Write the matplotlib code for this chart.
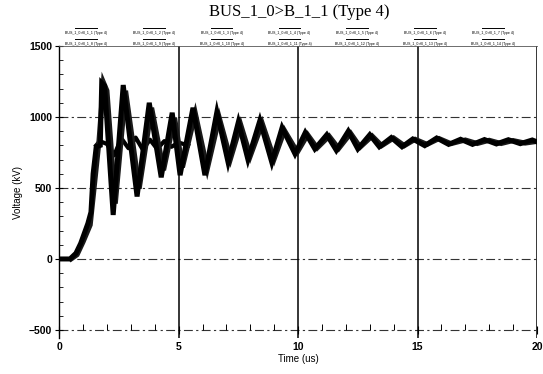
"""Overlaid bus voltage transients, Type 4 case."""
import matplotlib
matplotlib.use("Agg")
import matplotlib.pyplot as plt
from matplotlib.ticker import MultipleLocator

# main oscillating trace (time in us, voltage in kV)
t_main = [0, 0.45, 0.7, 0.9, 1.2, 1.33, 1.42, 1.55, 1.72, 1.78, 1.9, 2.26,
          2.68, 3.26, 3.77, 4.27, 4.73, 5.06, 5.6, 6.1, 6.6, 7.07, 7.5, 7.9,
          8.4, 8.9, 9.33, 9.87, 10.3, 10.7, 11.2, 11.6, 12.1, 12.5, 13.0,
          13.4, 13.9, 14.35, 14.8, 15.3, 15.8, 16.3, 16.8, 17.3, 17.8, 18.3,
          18.8, 19.3, 19.8, 20]
v_main = [0, 0, 40, 110, 250, 330, 600, 790, 800, 1240, 1220, 310,
          1225, 440, 1100, 575, 1030, 590, 1065, 590, 1035, 680, 965, 700,
          975, 680, 925, 740, 890, 775, 875, 765, 900, 775, 875,
          790, 855, 790, 845, 798, 852, 807, 843, 807, 841, 810,
          840, 812, 838, 825]

# neighbouring traces, a little behind the main one
t_lag = [0.5, 0.75, 1.0, 1.3, 1.5, 1.65, 1.85, 2.0, 2.35, 2.78, 3.35, 3.87,
         4.37, 4.83, 5.16, 5.7, 6.2, 6.7, 7.17, 7.6, 8.0, 8.5, 9.0, 9.43,
         9.97, 10.4, 10.8, 11.3, 11.7, 12.2, 12.6, 13.1, 13.5, 14.0, 14.45,
         14.9, 15.4, 15.9, 16.4, 17.0, 17.5, 18.0, 18.5, 19.0, 19.5, 20]
v_lag = [0, 30, 120, 240, 560, 800, 1245, 1185, 390, 1185, 495, 1065,
         625, 995, 645, 1025, 635, 995, 705, 945, 725, 955, 705, 905,
         752, 875, 782, 865, 778, 885, 788, 866, 798, 852, 798,
         843, 807, 848, 812, 838, 813, 836, 813, 834, 816, 828]

# flatter trace that stays near 800 kV
t_flat = [1.55, 1.7, 2.0, 2.3, 2.6, 2.9, 3.2, 3.5, 3.8, 4.1, 4.4, 4.7, 5.0, 5.4]
v_flat = [800, 830, 810, 730, 850, 780, 855, 770, 840, 775, 830, 790, 820, 800]

legend_labels = [f"BUS_1_0>B_1_{i} (Type 4)" for i in range(1, 15)]

x_major = [0, 5, 10, 15, 20]
y_major = [-500, 0, 500, 1000, 1500]

fig = plt.figure(figsize=(5.43, 3.74), dpi=100)
ax = fig.add_axes([0.109, 0.095, 0.880, 0.782])

# grid
for y in [-500, 0, 500, 1000]:
    ax.axhline(y, color="#333333", lw=0.8, ls=(0, (8, 3, 2, 3)), zorder=1)
for x in [5, 10, 15, 20]:
    ax.axvline(x, color="black", lw=1.1, zorder=1)

ax.plot(t_flat, v_flat, color="black", lw=3.0, zorder=3)
ax.plot(t_lag, v_lag, color="#1a1a1a", lw=3.6, solid_joinstyle="miter", zorder=3)
ax.plot(t_main, v_main, color="black", lw=3.6, solid_joinstyle="miter", zorder=4)

ax.set_xlim(0, 20)
ax.set_ylim(-560, 1500)

ax.spines["right"].set_visible(False)
ax.spines["top"].set_linewidth(0.6)
ax.spines["top"].set_color("#555555")
ax.spines["left"].set_linewidth(1.0)
ax.spines["bottom"].set_position(("data", -500))
ax.spines["bottom"].set_visible(False)

ax.set_xticks(x_major)
ax.xaxis.set_minor_locator(MultipleLocator(1))
ax.set_yticks(y_major)
ax.yaxis.set_minor_locator(MultipleLocator(100))
ax.tick_params(axis="y", which="major", direction="inout", length=6, width=0.8,
               labelsize=7.5, pad=2)
ax.tick_params(axis="y", which="minor", direction="in", length=3, width=0.6)
ax.tick_params(axis="x", which="major", direction="inout", length=6, width=0.8,
               labelsize=7.5, pad=6)
ax.tick_params(axis="x", which="minor", direction="in", length=4, width=0.7)
for lab in ax.get_xticklabels() + ax.get_yticklabels():
    lab.set_fontfamily("Liberation Sans")
    lab.set_fontweight("bold")

ax.set_xlabel("Time (us)", fontsize=7, family="Liberation Sans", labelpad=1)
ax.set_ylabel("Voltage (kV)", fontsize=7, family="Liberation Sans", labelpad=4)

fig.text(0.551, 0.968, "BUS_1_0>B_1_1 (Type 4)", ha="center", va="center",
         fontsize=12, family="Liberation Serif")

# two-row legend, line sample above each label
for i, lab in enumerate(legend_labels):
    col, row = i % 7, i // 7
    xc = (86 + col * 67.8) / 543
    yt = 1 - (33 + row * 10.5) / 374
    ym = yt + 5 / 374
    fig.text(xc, yt, lab, ha="center", va="center", fontsize=2.6,
             family="Liberation Sans")
    fig.add_artist(plt.Line2D([xc - 0.02, xc + 0.02], [ym, ym],
                              color="black", lw=0.7))

fig.savefig("out.png", dpi=100)
